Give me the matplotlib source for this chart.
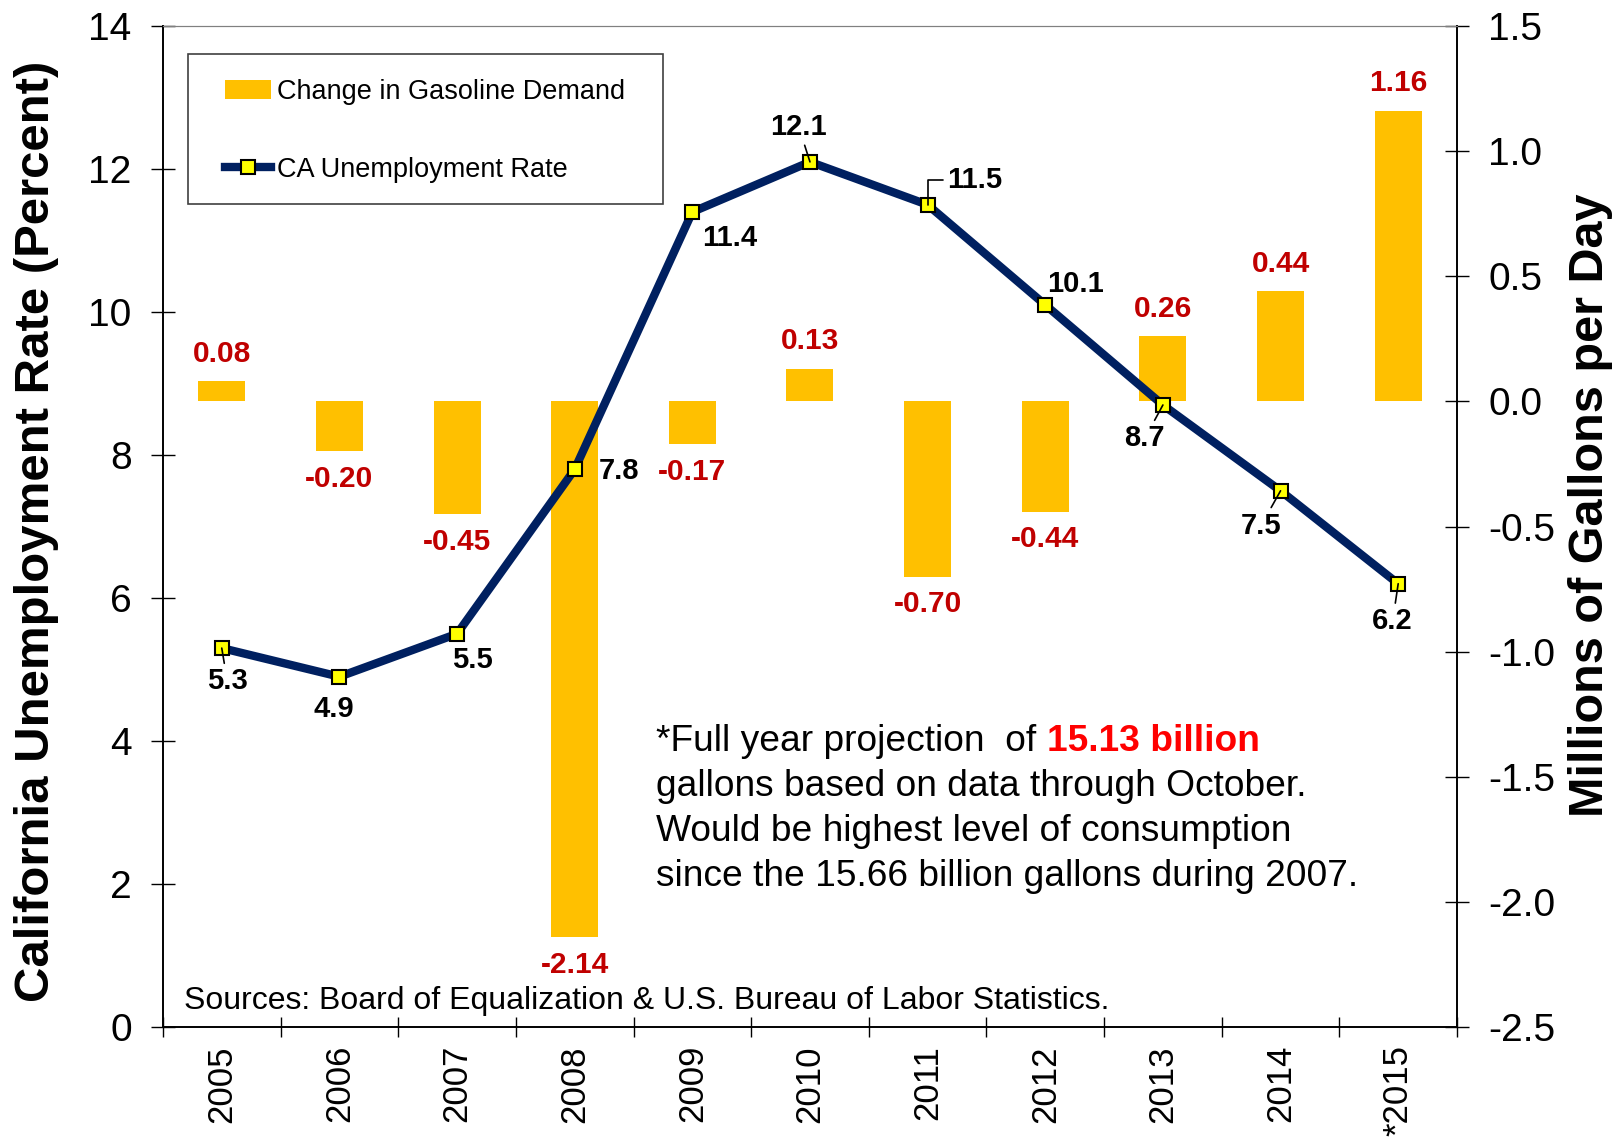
import numpy as np
import matplotlib
matplotlib.use("Agg")
import matplotlib.pyplot as plt
from matplotlib.patches import Rectangle
from matplotlib.ticker import FormatStrFormatter

plt.rcParams['font.family'] = ['Liberation Sans', 'DejaVu Sans']
plt.rcParams['axes.unicode_minus'] = False

# Data
years = ['2005', '2006', '2007', '2008', '2009', '2010',
         '2011', '2012', '2013', '2014', '*2015']
unemployment = [5.3, 4.9, 5.5, 7.8, 11.4, 12.1, 11.5, 10.1, 8.7, 7.5, 6.2]
gas_change = [0.08, -0.20, -0.45, -2.14, -0.17, 0.13, -0.70, -0.44, 0.26, 0.44, 1.16]

# label offsets (points) for the unemployment values, and their leader lines
line_label_offsets = [(4, -24), (-4, -23), (11, -19), (32, -1), (27, -19), (-8, 25),
                      (34, 18), (22, 15), (-13, -24), (-14, -25), (-4, -27)]
line_label_leader = [True, False, False, False, False, True,
                     True, False, True, True, True]
line_label_conn = ['arc3', 'arc3', 'arc3', 'arc3', 'arc3', 'arc3',
                   'angle,angleA=0,angleB=90,rad=0', 'arc3', 'arc3', 'arc3', 'arc3']

BAR_COLOR = '#FFC000'
LINE_COLOR = '#002060'
RED_LABEL = '#C00000'

fig = plt.figure(figsize=(16.18, 11.37), dpi=100)
ax = fig.add_axes([0.1007, 0.0967, 0.7998, 0.8804])
ax2 = ax.twinx()
ax.set_zorder(ax2.get_zorder() + 1)
ax.patch.set_visible(False)

x = np.arange(len(years))

# bars on the right axis
bars = ax2.bar(x, gas_change, width=0.4, color=BAR_COLOR, zorder=2)
ax2.set_ylim(-2.5, 1.5)
ax2.set_yticks(np.arange(-2.5, 1.51, 0.5))
ax2.yaxis.set_major_formatter(FormatStrFormatter('%.1f'))
for xi, v in zip(x, gas_change):
    off = 20 if v >= 0 else -20
    ax2.annotate(f'{v:.2f}', xy=(xi, v), xytext=(0, off), textcoords='offset points',
                 ha='center', va='center', fontsize=21.5, fontweight='bold', color=RED_LABEL)

# unemployment line on the left axis
line, = ax.plot(x, unemployment, color=LINE_COLOR, lw=6, marker='s', ms=10.5,
                mfc='#FFFF00', mec='black', mew=1.5, zorder=3)
ax.set_ylim(0, 14)
ax.set_xlim(-0.5, 10.5)
ax.set_yticks(np.arange(0, 15, 2))

for xi, v, off, lead, conn in zip(x, unemployment, line_label_offsets,
                                  line_label_leader, line_label_conn):
    props = None
    if lead:
        props = dict(arrowstyle='-', lw=1.2, color='black', shrinkA=1, shrinkB=0,
                     connectionstyle=conn)
    ax.annotate(f'{v:.1f}', xy=(xi, v), xytext=off, textcoords='offset points',
                ha='center', va='center', fontsize=21, fontweight='bold',
                arrowprops=props, zorder=5)

# ticks
ax.set_xticks(x, labels=years, rotation=90)
ax.set_xticks(np.arange(-0.5, 11, 1), minor=True)
ax.tick_params(axis='x', which='major', length=0, pad=13, labelsize=25)
ax.tick_params(axis='x', which='minor', direction='inout', length=14, width=1)
ax.tick_params(axis='y', direction='inout', length=17, width=1, labelsize=28, pad=14)
ax2.tick_params(axis='y', direction='inout', length=17, width=1, labelsize=28, pad=14)

for a in (ax, ax2):
    a.spines['top'].set_color('#808080')
    for s in ('left', 'right', 'bottom'):
        a.spines[s].set_color('black')
        a.spines[s].set_linewidth(1.2)

ax.set_ylabel('California Unemployment Rate (Percent)', fontsize=35.4, fontweight='bold')
ax.yaxis.set_label_coords(-0.08, 0.495)
ax2.set_ylabel('Millions of Gallons per Day', fontsize=35, fontweight='bold')
ax2.yaxis.set_label_coords(1.086, 0.521)

# legend with a separate box
ax.legend(handles=[bars, line], labels=['Change in Gasoline Demand', 'CA Unemployment Rate'],
          loc='upper left', bbox_to_anchor=(0.048, 0.947), frameon=False, fontsize=19.5,
          handlelength=1.7, handletextpad=0.2, labelspacing=1.9, borderpad=0,
          borderaxespad=0)
ax.add_patch(Rectangle((0.0193, 0.822), 0.367, 0.150, transform=ax.transAxes,
                       fill=False, ec='#404040', lw=1.2, zorder=4))

# notes
t1 = ax.text(0.381, 0.285, '*Full year projection  of', transform=ax.transAxes,
             fontsize=26.7, ha='left', va='center')
ax.annotate('15.13 billion', xy=(1, 0), xycoords=t1, xytext=(8, 0),
            textcoords='offset points', ha='left', va='bottom', fontsize=26.7,
            fontweight='bold', color='#FF0000')
note_lines = ['gallons based on data through October.',
              'Would be highest level of consumption',
              'since the 15.66 billion gallons during 2007.']
for yy, txt in zip([0.240, 0.195, 0.150], note_lines):
    ax.text(0.381, yy, txt, transform=ax.transAxes, fontsize=26.7, ha='left', va='center')

ax.text(0.016, 0.026, 'Sources: Board of Equalization & U.S. Bureau of Labor Statistics.',
        transform=ax.transAxes, fontsize=23, ha='left', va='center')

fig.savefig('out.png', dpi=100)
